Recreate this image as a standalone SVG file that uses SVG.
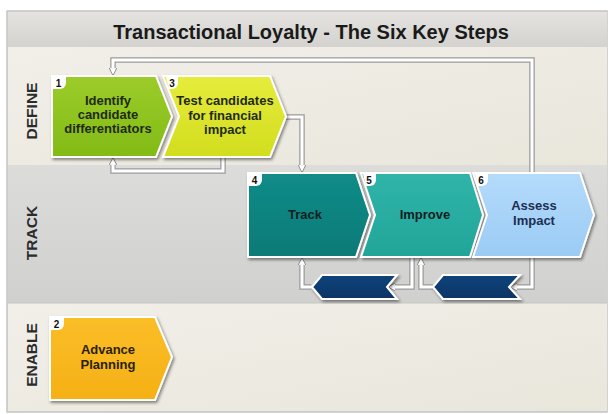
<svg xmlns="http://www.w3.org/2000/svg" width="608" height="414" viewBox="0 0 608 414">
  <defs>
    <linearGradient id="gTitle" x1="0" y1="0" x2="0" y2="1">
      <stop offset="0" stop-color="#e4e3e0"/>
      <stop offset="1" stop-color="#d3d2ce"/>
    </linearGradient>
    <linearGradient id="gBeige" x1="0" y1="0" x2="1" y2="1">
      <stop offset="0" stop-color="#f1efe8"/>
      <stop offset="1" stop-color="#e9e6dc"/>
    </linearGradient>
    <linearGradient id="gTrack" x1="0" y1="0" x2="0" y2="1">
      <stop offset="0" stop-color="#dcdcdb"/>
      <stop offset="1" stop-color="#d0d0cf"/>
    </linearGradient>
    <linearGradient id="gGreen" x1="0" y1="0" x2="0" y2="1">
      <stop offset="0" stop-color="#9ccc2a"/>
      <stop offset="1" stop-color="#82bb16"/>
    </linearGradient>
    <linearGradient id="gYellow" x1="0" y1="0" x2="0" y2="1">
      <stop offset="0" stop-color="#e6ec3c"/>
      <stop offset="1" stop-color="#d2dd1e"/>
    </linearGradient>
    <linearGradient id="gTeal" x1="0" y1="0" x2="0" y2="1">
      <stop offset="0" stop-color="#128c88"/>
      <stop offset="1" stop-color="#0c7a77"/>
    </linearGradient>
    <linearGradient id="gAqua" x1="0" y1="0" x2="0" y2="1">
      <stop offset="0" stop-color="#30b4a9"/>
      <stop offset="1" stop-color="#22a599"/>
    </linearGradient>
    <linearGradient id="gBlue" x1="0" y1="0" x2="0" y2="1">
      <stop offset="0" stop-color="#b4dbfb"/>
      <stop offset="1" stop-color="#9bcbf4"/>
    </linearGradient>
    <linearGradient id="gOrange" x1="0" y1="0" x2="0" y2="1">
      <stop offset="0" stop-color="#fbbe28"/>
      <stop offset="1" stop-color="#f5b015"/>
    </linearGradient>
    <linearGradient id="gNavy" x1="0" y1="0" x2="0" y2="1">
      <stop offset="0" stop-color="#12447a"/>
      <stop offset="1" stop-color="#0b3465"/>
    </linearGradient>
    <filter id="shadow" x="-10%" y="-10%" width="125%" height="130%">
      <feDropShadow dx="1.5" dy="2" stdDeviation="1.5" flood-color="#000" flood-opacity="0.45"/>
    </filter>
    <marker id="arrow" viewBox="0 0 10 10" refX="8" refY="5" markerWidth="8" markerHeight="8" markerUnits="userSpaceOnUse" orient="auto">
      <path d="M0,0 L10,5 L0,10 Z" fill="#ffffff" stroke="#8a8a8a" stroke-width="1.2"/>
    </marker>
    <style>
      .shape { stroke: #ffffff; stroke-width: 2; filter: url(#shadow); }
      .badge { fill: #ffffff; }
      .num { font-family: "Liberation Sans", Arial, sans-serif; font-weight: bold; font-size: 10px; fill: #111111; text-anchor: middle; }
      .label { font-family: "Liberation Sans", Arial, sans-serif; font-weight: bold; font-size: 13px; fill: #1f2a14; text-anchor: middle; }
      .lane { font-family: "Liberation Sans", Arial, sans-serif; font-weight: bold; font-size: 15.5px; fill: #2b2b2b; text-anchor: middle; }
      .title { font-family: "Liberation Sans", Arial, sans-serif; font-weight: bold; font-size: 20px; fill: #1a1a1a; text-anchor: middle; }
      .edge-under { fill: none; stroke: #9c9c9c; stroke-width: 5.5; stroke-linejoin: miter; }
      .edge { fill: none; stroke: #ffffff; stroke-width: 3; stroke-linejoin: miter; }
    </style>
  </defs>

  <!-- page and frame -->
  <rect x="0" y="0" width="608" height="414" fill="#ffffff"/>
  <rect x="7" y="11" width="600" height="401" fill="#e9e7e0" stroke="#c4c4c4" stroke-width="1.5"/>

  <!-- title band -->
  <rect x="8" y="12" width="599" height="35" fill="url(#gTitle)"/>
  <text class="title" x="311" y="39">Transactional Loyalty - The Six Key Steps</text>

  <!-- swim lanes -->
  <rect x="8" y="47" width="599" height="118" fill="url(#gBeige)"/>
  <rect x="8" y="165" width="599" height="138" fill="url(#gTrack)"/>
  <rect x="8" y="303" width="599" height="108" fill="url(#gBeige)"/>
  <line x1="8" y1="303" x2="607" y2="303" stroke="#c6c6c4" stroke-width="1"/>

  <text class="lane" transform="translate(37,111) rotate(-90)">DEFINE</text>
  <text class="lane" transform="translate(37,233) rotate(-90)">TRACK</text>
  <text class="lane" transform="translate(37,355) rotate(-90)">ENABLE</text>

  <!-- connectors -->
  <g id="connectors">
    <path class="edge-under" d="M532,172 V60 H113 V71"/>
    <path class="edge" d="M532,172 V60 H113 V74" marker-end="url(#arrow)"/>

    <path class="edge-under" d="M286,117 H302 V168"/>
    <path class="edge" d="M286,117 H302 V171" marker-end="url(#arrow)"/>

    <path class="edge-under" d="M223,158 V171 H113 V162"/>
    <path class="edge" d="M223,158 V171 H113 V159" marker-end="url(#arrow)"/>

    <path class="edge-under" d="M412,258 V287 H392"/>
    <path class="edge" d="M412,258 V287 H389" marker-end="url(#arrow)"/>

    <path class="edge-under" d="M311,287 H302 V262"/>
    <path class="edge" d="M311,287 H302 V259" marker-end="url(#arrow)"/>

    <path class="edge-under" d="M532,258 V287 H514"/>
    <path class="edge" d="M532,258 V287 H511" marker-end="url(#arrow)"/>

    <path class="edge-under" d="M433,287 H421 V262"/>
    <path class="edge" d="M433,287 H421 V259" marker-end="url(#arrow)"/>
  </g>

  <!-- step 1 -->
  <g id="step1">
    <path class="shape" fill="url(#gGreen)" d="M52,76 L156,76 L172,116.5 L156,157 L52,157 Z"/>
    <path class="badge" d="M53,77 H66 V83 A6,6 0 0 1 60,89 H53 Z"/>
    <text class="num" x="58.5" y="87">1</text>
    <text class="label" x="108" y="105">Identify</text>
    <text class="label" x="108" y="119">candidate</text>
    <text class="label" x="108" y="133">differentiators</text>
  </g>

  <!-- step 3 -->
  <g id="step3">
    <path class="shape" fill="url(#gYellow)" d="M163,76 L270,76 L286,116.5 L270,157 L163,157 L179,116.5 Z"/>
    <path class="badge" d="M166,77 H178 V83 A6,6 0 0 1 172,89 H169 Z"/>
    <text class="num" x="172" y="87">3</text>
    <text class="label" x="225" y="105">Test candidates</text>
    <text class="label" x="225" y="120">for financial</text>
    <text class="label" x="225" y="134">impact</text>
  </g>

  <!-- step 4 -->
  <g id="step4">
    <path class="shape" fill="url(#gTeal)" d="M248,173 L356,173 L370,215 L356,257 L248,257 Z"/>
    <path class="badge" d="M249,174 H262 V180 A6,6 0 0 1 256,186 H249 Z"/>
    <text class="num" x="254.5" y="184">4</text>
    <text class="label" x="305" y="219" style="fill:#10201f">Track</text>
  </g>

  <!-- step 5 -->
  <g id="step5">
    <path class="shape" fill="url(#gAqua)" d="M361,173 L470,173 L483,215 L470,257 L361,257 L375,215 Z"/>
    <path class="badge" d="M363,174 H376 V180 A6,6 0 0 1 370,186 H366 Z"/>
    <text class="num" x="369" y="184">5</text>
    <text class="label" x="425" y="219" style="fill:#10201f">Improve</text>
  </g>

  <!-- step 6 -->
  <g id="step6">
    <path class="shape" fill="url(#gBlue)" d="M473,173 L580,173 L594,215 L580,257 L473,257 L487,215 Z"/>
    <path class="badge" d="M475,174 H488 V180 A6,6 0 0 1 482,186 H478 Z"/>
    <text class="num" x="481" y="184">6</text>
    <text class="label" x="534" y="210" style="fill:#1c2e52">Assess</text>
    <text class="label" x="534" y="225" style="fill:#1c2e52">Impact</text>
  </g>

  <!-- feedback chevrons -->
  <g id="feedback1">
    <path class="shape" fill="url(#gNavy)" d="M312,287 L322,275 L397,275 L387,287 L397,299 L322,299 Z"/>
  </g>
  <g id="feedback2">
    <path class="shape" fill="url(#gNavy)" d="M433,287 L443,275 L520,275 L509,287 L520,299 L443,299 Z"/>
  </g>

  <!-- step 2 -->
  <g id="step2">
    <path class="shape" fill="url(#gOrange)" d="M50,317 L155,317 L172,357 L155,400 L50,400 Z"/>
    <path class="badge" d="M51,318 H64 V324 A6,6 0 0 1 58,330 H51 Z"/>
    <text class="num" x="56.5" y="328">2</text>
    <text class="label" x="108" y="354" style="fill:#2a1f05">Advance</text>
    <text class="label" x="108" y="369" style="fill:#2a1f05">Planning</text>
  </g>
</svg>
